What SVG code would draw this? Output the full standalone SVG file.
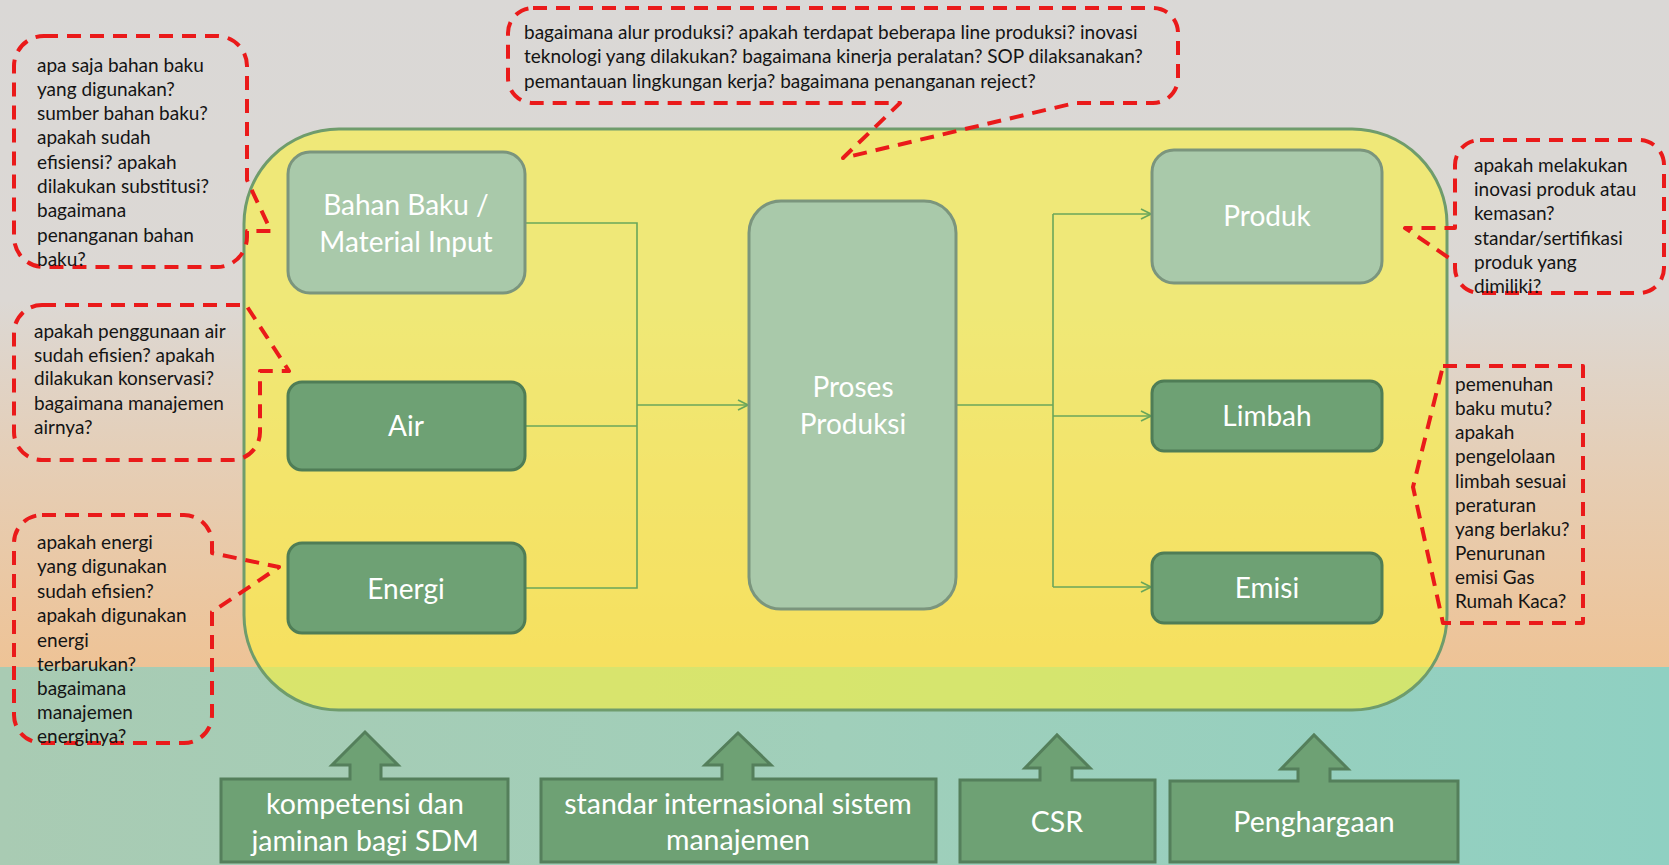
<svg xmlns="http://www.w3.org/2000/svg" width="1669" height="865" viewBox="0 0 1669 865">
<defs>
<linearGradient id="bgTop" x1="0" y1="0" x2="0" y2="1">
<stop offset="0" stop-color="#dad8d6"/>
<stop offset="0.45" stop-color="#dcd8d4"/>
<stop offset="0.72" stop-color="#e6cdb3"/>
<stop offset="1" stop-color="#eec396"/>
</linearGradient>
<linearGradient id="bgBot" x1="0" y1="0" x2="1" y2="0">
<stop offset="0" stop-color="#a9cbb3"/>
<stop offset="0.5" stop-color="#a0cfba"/>
<stop offset="1" stop-color="#8fd0c2"/>
</linearGradient>
<marker id="arr" viewBox="0 0 12 12" refX="11" refY="6" markerWidth="12" markerHeight="12" markerUnits="userSpaceOnUse" orient="auto">
<path d="M1,1 L11,6 L1,11" fill="none" stroke="#6aa65a" stroke-width="1.6"/>
</marker>
<style>
.callout{fill:none;stroke:#ea1a1a;stroke-width:4;stroke-dasharray:14 9;stroke-linejoin:round}
.ct{font-family:Lato,"Open Sans",sans-serif;font-size:19px;fill:#141414}
.light{fill:#a9c9aa;stroke:#7b957d;stroke-width:3}
.dark{fill:#6ea174;stroke:#4f7d56;stroke-width:3}
.nt{font-family:Lato,"Open Sans",sans-serif;font-size:28px;fill:#ffffff;text-anchor:middle}
.bt{font-family:Lato,"Open Sans",sans-serif;font-size:28.5px;fill:#ffffff;text-anchor:middle}
.up{fill:#6ea174;stroke:#547f5b;stroke-width:3;stroke-linejoin:miter}
.conn{fill:none;stroke:#6aa65a;stroke-width:1.6}
</style>
</defs>
<rect x="0" y="0" width="1669" height="667" fill="url(#bgTop)"/>
<rect x="0" y="667" width="1669" height="198" fill="url(#bgBot)"/>

<g id="container">
<rect x="244" y="129" width="1203" height="581" rx="95" ry="95" fill="#fbf43a" fill-opacity="0.6" stroke="#6f9c6c" stroke-width="3"/>
</g>

<g id="connectors">
<polyline class="conn" points="525,223 637,223 637,588 525,588"/>
<line class="conn" x1="525" y1="426" x2="637" y2="426"/>
<line class="conn" x1="637" y1="405" x2="748" y2="405" marker-end="url(#arr)"/>
<line class="conn" x1="956" y1="405" x2="1053" y2="405"/>
<line class="conn" x1="1053" y1="214" x2="1053" y2="587"/>
<line class="conn" x1="1053" y1="214" x2="1151" y2="214" marker-end="url(#arr)"/>
<line class="conn" x1="1053" y1="416" x2="1151" y2="416" marker-end="url(#arr)"/>
<line class="conn" x1="1053" y1="587" x2="1151" y2="587" marker-end="url(#arr)"/>
</g>

<g id="node-bahan-baku">
<rect class="light" x="288" y="152" width="237" height="141" rx="22"/>
<text class="nt" x="406" y="215">Bahan Baku /</text>
<text class="nt" x="406" y="252">Material Input</text>
</g>
<g id="node-air">
<rect class="dark" x="288" y="382" width="237" height="88" rx="14"/>
<text class="nt" x="406" y="436">Air</text>
</g>
<g id="node-energi">
<rect class="dark" x="288" y="543" width="237" height="90" rx="14"/>
<text class="nt" x="406" y="599">Energi</text>
</g>
<g id="node-proses">
<rect class="light" x="749" y="201" width="207" height="408" rx="32"/>
<text class="nt" x="853" y="397">Proses</text>
<text class="nt" x="853" y="434">Produksi</text>
</g>
<g id="node-produk">
<rect class="light" x="1152" y="150" width="230" height="133" rx="22"/>
<text class="nt" x="1267" y="226">Produk</text>
</g>
<g id="node-limbah">
<rect class="dark" x="1152" y="381" width="230" height="70" rx="12"/>
<text class="nt" x="1267" y="426">Limbah</text>
</g>
<g id="node-emisi">
<rect class="dark" x="1152" y="553" width="230" height="70" rx="12"/>
<text class="nt" x="1267" y="598">Emisi</text>
</g>

<g id="callout-bahan">
<path class="callout" d="M44,36 H217 A30,30 0 0 1 247,66 V180 L271,231 L247,231 V237 A30,30 0 0 1 217,267 H44 A30,30 0 0 1 14,237 V66 A30,30 0 0 1 44,36 Z"/>
<text class="ct" x="37" y="72">apa saja bahan baku</text>
<text class="ct" x="37" y="96">yang digunakan?</text>
<text class="ct" x="37" y="120">sumber bahan baku?</text>
<text class="ct" x="37" y="144">apakah sudah</text>
<text class="ct" x="37" y="169">efisiensi? apakah</text>
<text class="ct" x="37" y="193">dilakukan substitusi?</text>
<text class="ct" x="37" y="217">bagaimana</text>
<text class="ct" x="37" y="242">penanganan bahan</text>
<text class="ct" x="37" y="266">baku?</text>
</g>

<g id="callout-proses">
<path class="callout" d="M533,8 H1153 A25,25 0 0 1 1178,33 V78 A25,25 0 0 1 1153,103 H1075 L843,158 L900,103 H533 A25,25 0 0 1 508,78 V33 A25,25 0 0 1 533,8 Z"/>
<text class="ct" x="524" y="39">bagaimana alur produksi? apakah terdapat beberapa line produksi? inovasi</text>
<text class="ct" x="524" y="63">teknologi yang dilakukan? bagaimana kinerja peralatan? SOP dilaksanakan?</text>
<text class="ct" x="524" y="88">pemantauan lingkungan kerja? bagaimana penanganan reject?</text>
</g>

<g id="callout-produk">
<path class="callout" d="M1480,140 H1639 A25,25 0 0 1 1664,165 V268 A25,25 0 0 1 1639,293 H1480 A25,25 0 0 1 1455,268 V262 L1405,228 L1455,228 V165 A25,25 0 0 1 1480,140 Z"/>
<text class="ct" x="1474" y="172">apakah melakukan</text>
<text class="ct" x="1474" y="196">inovasi produk atau</text>
<text class="ct" x="1474" y="220">kemasan?</text>
<text class="ct" x="1474" y="245">standar/sertifikasi</text>
<text class="ct" x="1474" y="269">produk yang</text>
<text class="ct" x="1474" y="293">dimiliki?</text>
</g>

<g id="callout-air">
<path class="callout" d="M42,305 H246 L289,371 L260,371 V432 A28,28 0 0 1 232,460 H42 A28,28 0 0 1 14,432 V333 A28,28 0 0 1 42,305 Z"/>
<text class="ct" x="34" y="338">apakah penggunaan air</text>
<text class="ct" x="34" y="362">sudah efisien? apakah</text>
<text class="ct" x="34" y="385">dilakukan konservasi?</text>
<text class="ct" x="34" y="410">bagaimana manajemen</text>
<text class="ct" x="34" y="434">airnya?</text>
</g>

<g id="callout-energi">
<path class="callout" d="M42,515 H184 A28,28 0 0 1 212,543 V553 L279,567 L212,612 V715 A28,28 0 0 1 184,743 H42 A28,28 0 0 1 14,715 V543 A28,28 0 0 1 42,515 Z"/>
<text class="ct" x="37" y="549">apakah energi</text>
<text class="ct" x="37" y="573">yang digunakan</text>
<text class="ct" x="37" y="598">sudah efisien?</text>
<text class="ct" x="37" y="622">apakah digunakan</text>
<text class="ct" x="37" y="647">energi</text>
<text class="ct" x="37" y="671">terbarukan?</text>
<text class="ct" x="37" y="695">bagaimana</text>
<text class="ct" x="37" y="719">manajemen</text>
<text class="ct" x="37" y="743">energinya?</text>
</g>

<g id="callout-limbah">
<path class="callout" d="M1443,366 H1583 V623 H1443 L1413,487 Z"/>
<text class="ct" x="1455" y="391">pemenuhan</text>
<text class="ct" x="1455" y="415">baku mutu?</text>
<text class="ct" x="1455" y="439">apakah</text>
<text class="ct" x="1455" y="463">pengelolaan</text>
<text class="ct" x="1455" y="488">limbah sesuai</text>
<text class="ct" x="1455" y="512">peraturan</text>
<text class="ct" x="1455" y="536">yang berlaku?</text>
<text class="ct" x="1455" y="560">Penurunan</text>
<text class="ct" x="1455" y="584">emisi Gas</text>
<text class="ct" x="1455" y="608">Rumah Kaca?</text>
</g>

<g id="node-sdm">
<path class="up" d="M221,779 H350 V765 H332 L365,732 L398,765 H381 V779 H508 V862 H221 Z"/>
<text class="bt" x="365" y="814">kompetensi dan</text>
<text class="bt" x="365" y="851">jaminan bagi SDM</text>
</g>
<g id="node-standar">
<path class="up" d="M541,779 H722 V765 H705 L738,733 L771,765 H753 V779 H936 V862 H541 Z"/>
<text class="bt" x="738" y="814">standar internasional sistem</text>
<text class="bt" x="738" y="850">manajemen</text>
</g>
<g id="node-csr">
<path class="up" d="M960,780 H1040 V768 H1025 L1057,735 L1090,768 H1072 V780 H1155 V862 H960 Z"/>
<text class="bt" x="1057" y="832">CSR</text>
</g>
<g id="node-penghargaan">
<path class="up" d="M1170,781 H1298 V769 H1281 L1314,735 L1348,769 H1330 V781 H1458 V862 H1170 Z"/>
<text class="bt" x="1314" y="832">Penghargaan</text>
</g>
</svg>
